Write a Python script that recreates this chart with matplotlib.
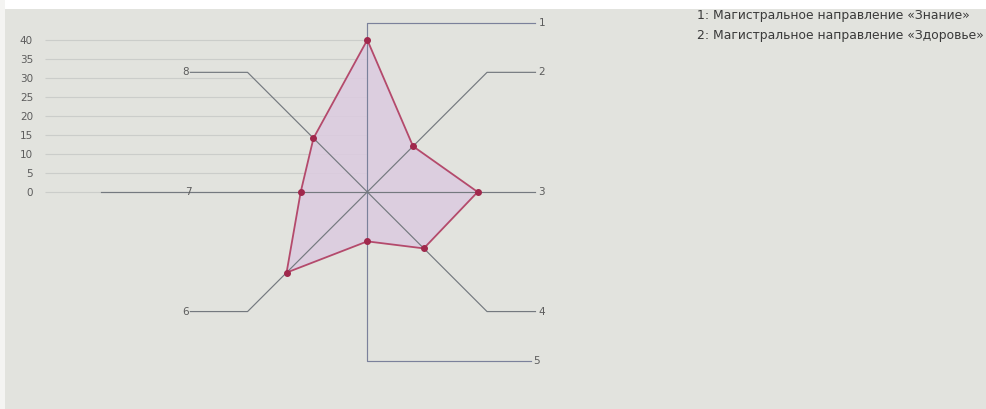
import numpy as np
import matplotlib.pyplot as plt
from matplotlib.patches import Rectangle

# chart data
axis_labels = ['1', '2', '3', '4', '5', '6', '7', '8']
values = [40, 17, 29, 21, 13, 30, 17.5, 20]
yticks = list(range(0, 41, 5))
legend_lines = ['1: Магистральное направление «Знание»',
                '2: Магистральное направление «Здоровье»']

# axis 1 points up, the rest go clockwise in 45 degree steps
angles = np.deg2rad(90 - 45 * np.arange(len(values)))
vals = np.array(values, dtype=float)
pts_x = vals * np.cos(angles)
pts_y = vals * np.sin(angles)

R = 44.5          # length of every spoke
right_end = 44.2  # where the leader arms stop on the right
left_end = -46.5  # ... and on the left

fig = plt.figure(figsize=(9.86, 4.09), dpi=100, facecolor='#e2e3de')
fig.patches.append(Rectangle((0, 1 - 9 / 409), 1, 9 / 409, transform=fig.transFigure,
                             facecolor='white', edgecolor='none', zorder=0))
fig.patches.append(Rectangle((0, 0), 5 / 986, 1, transform=fig.transFigure,
                             facecolor='#f4f4f2', edgecolor='none', zorder=0))

ax = fig.add_axes([45 / 986, 0, 941 / 986, 1])
ax.set_facecolor('none')
ax.set_xlim(-84.7, 162.6)
ax.set_ylim(-57.1, 50.5)
for s in ax.spines.values():
    s.set_visible(False)
ax.set_xticks([])
ax.set_yticks(yticks)
ax.tick_params(axis='y', length=0, pad=8.6, labelsize=7.5, labelcolor='#5c5c5c')
ax.hlines(yticks, -84.7, 0, color='#cbcdca', lw=0.8, zorder=0)

# value polygon fill sits under the spokes
ax.fill(pts_x, pts_y, facecolor='#dccbe0', alpha=0.85, edgecolor='none', zorder=1)

line_col = '#74797f'
for i, a in enumerate(angles):
    c, s = np.cos(a), np.sin(a)
    if abs(s) < 1e-6:
        # horizontal spokes
        if c > 0:
            ax.plot([0, right_end], [0, 0], color=line_col, lw=0.85, zorder=2)
            ax.text(right_end + 0.8, 0, axis_labels[i], fontsize=7.5, color='#5c5c5c',
                    ha='left', va='center')
        else:
            ax.plot([-70, 0], [0, 0], color=line_col, lw=0.85, zorder=2)
            ax.text(-47, 0, axis_labels[i], fontsize=7.5, color='#5c5c5c',
                    ha='center', va='center')
        continue
    cx, cy = R * c, R * s
    col = '#7b819b' if abs(c) < 1e-6 else line_col
    if c > -1e-6:
        xe = right_end if s > 0 or c > 1e-6 else right_end - 1.3
        ax.plot([0, cx, xe], [0, cy, cy], color=col, lw=0.85, zorder=2)
        ax.text(xe + 0.8, cy, axis_labels[i], fontsize=7.5, color='#5c5c5c',
                ha='left', va='center')
    else:
        ax.plot([0, cx, left_end], [0, cy, cy], color=col, lw=0.85, zorder=2)
        ax.text(left_end - 0.5, cy, axis_labels[i], fontsize=7.5, color='#5c5c5c',
                ha='right', va='center')

ax.plot(np.append(pts_x, pts_x[0]), np.append(pts_y, pts_y[0]),
        color='#b44a6c', lw=1.3, zorder=3)
ax.plot(pts_x, pts_y, 'o', color='#a0284c', ms=4, zorder=4)

for k, txt in enumerate(legend_lines):
    fig.text(697 / 986, 1 - (15 + 21 * k) / 409, txt, fontsize=8.9, color='#3a3a3a',
             ha='left', va='center')

fig.savefig('out.png', dpi=100, facecolor=fig.get_facecolor())
